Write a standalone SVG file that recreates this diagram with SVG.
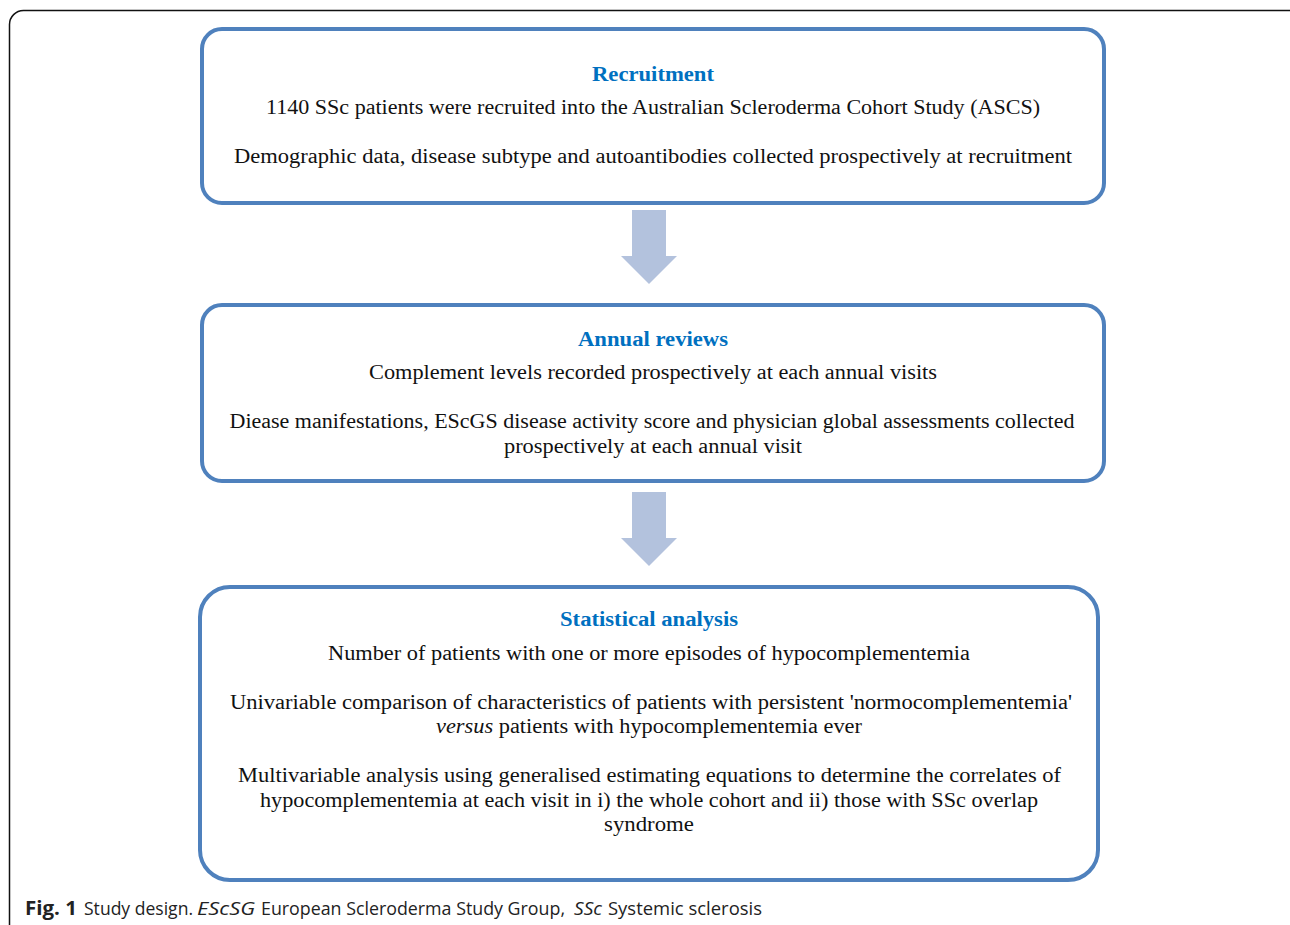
<svg xmlns="http://www.w3.org/2000/svg" width="1290" height="925" viewBox="0 0 1290 925">
<style>
.box{fill:#fff;stroke:#4F81BD;stroke-width:4}
.t{font-family:"Liberation Serif",serif;font-size:20px;fill:#111;text-anchor:middle}
.h{font-family:"Liberation Serif",serif;font-size:20px;font-weight:bold;fill:#0070C0;text-anchor:middle}
.arr{fill:#B3C2DD}
.cap{font-family:"Open Sans","Liberation Sans",sans-serif;font-size:19px;fill:#222}
</style>
<rect x="0" y="0" width="1290" height="925" fill="#fff"/>
<rect x="9.5" y="10.5" width="1300" height="960" rx="14" fill="none" stroke="#111" stroke-width="1.5"/>
<g id="connectors">
<polygon class="arr" points="632,210 666,210 666,256 677,256 649,284 621,256 632,256"/>
<polygon class="arr" points="632,492 666,492 666,538 677,538 649,566 621,538 632,538"/>
</g>
<g id="recruitment">
<rect class="box" x="202" y="29" width="902" height="174" rx="20"/>
<text class="h" x="653" y="81" textLength="122" lengthAdjust="spacingAndGlyphs">Recruitment</text>
<text class="t" x="653" y="114" textLength="774" lengthAdjust="spacingAndGlyphs">1140 SSc patients were recruited into the Australian Scleroderma Cohort Study (ASCS)</text>
<text class="t" x="653" y="163" textLength="838" lengthAdjust="spacingAndGlyphs">Demographic data, disease subtype and autoantibodies collected prospectively at recruitment</text>
</g>
<g id="annual">
<rect class="box" x="202" y="305" width="902" height="176" rx="20"/>
<text class="h" x="653" y="346" textLength="150" lengthAdjust="spacingAndGlyphs">Annual reviews</text>
<text class="t" x="653" y="379" textLength="568" lengthAdjust="spacingAndGlyphs">Complement levels recorded prospectively at each annual visits</text>
<text class="t" x="652" y="428" textLength="845" lengthAdjust="spacingAndGlyphs">Diease manifestations, EScGS disease activity score and physician global assessments collected</text>
<text class="t" x="653" y="453" textLength="298" lengthAdjust="spacingAndGlyphs">prospectively at each annual visit</text>
</g>
<g id="statistical">
<rect class="box" x="200" y="587" width="898" height="293" rx="30"/>
<text class="h" x="649" y="626" textLength="178" lengthAdjust="spacingAndGlyphs">Statistical analysis</text>
<text class="t" x="649" y="660" textLength="642" lengthAdjust="spacingAndGlyphs">Number of patients with one or more episodes of hypocomplementemia</text>
<text class="t" x="651" y="709" textLength="842" lengthAdjust="spacingAndGlyphs">Univariable comparison of characteristics of patients with persistent 'normocomplementemia'</text>
<text class="t" x="649" y="733" textLength="426" lengthAdjust="spacingAndGlyphs"><tspan font-style="italic">versus</tspan> patients with hypocomplementemia ever</text>
<text class="t" x="649.5" y="782" textLength="823" lengthAdjust="spacingAndGlyphs">Multivariable analysis using generalised estimating equations to determine the correlates of</text>
<text class="t" x="649" y="807" textLength="778" lengthAdjust="spacingAndGlyphs">hypocomplementemia at each visit in i) the whole cohort and ii) those with SSc overlap</text>
<text class="t" x="649" y="831" textLength="90" lengthAdjust="spacingAndGlyphs">syndrome</text>
</g>
<g id="caption">
<text class="cap" x="25" y="915" font-weight="bold" textLength="52" lengthAdjust="spacingAndGlyphs">Fig. 1</text>
<text class="cap" x="84" y="915" textLength="109" lengthAdjust="spacingAndGlyphs">Study design.</text>
<text class="cap" x="197" y="915" font-style="italic" textLength="58" lengthAdjust="spacingAndGlyphs">EScSG</text>
<text class="cap" x="261" y="915" font-size="18" textLength="304" lengthAdjust="spacingAndGlyphs">European Scleroderma Study Group,</text>
<text class="cap" x="574" y="915" font-style="italic" textLength="28" lengthAdjust="spacingAndGlyphs">SSc</text>
<text class="cap" x="608" y="915" textLength="154" lengthAdjust="spacingAndGlyphs">Systemic sclerosis</text>
</g>
</svg>
